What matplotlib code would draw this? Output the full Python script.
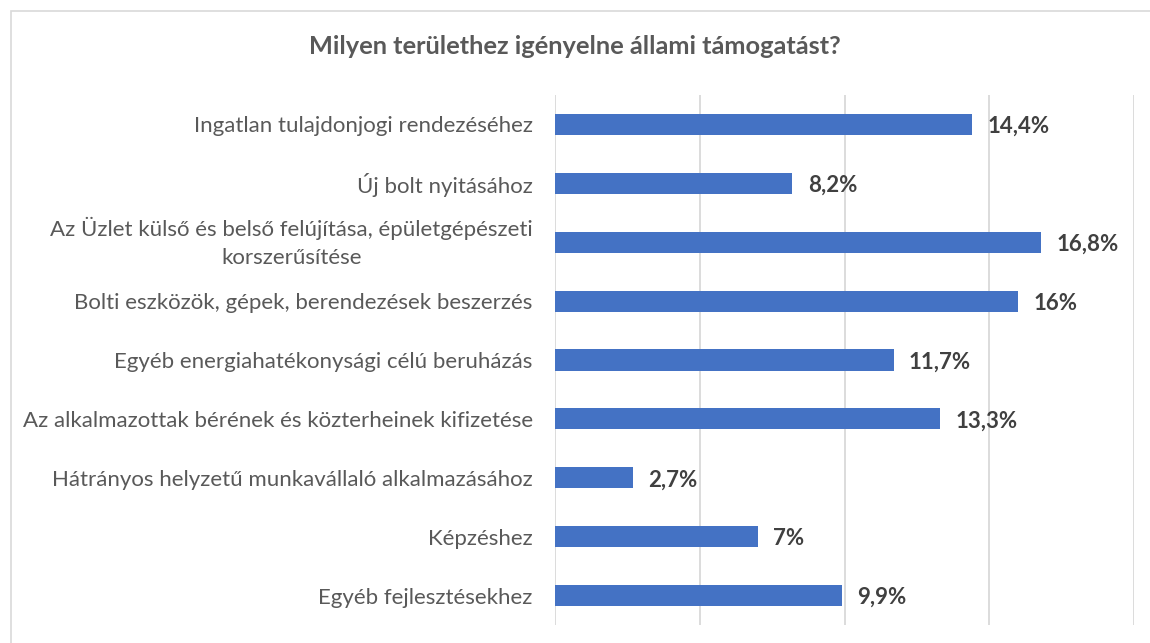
import matplotlib.pyplot as plt
from matplotlib.patches import Rectangle

# kategóriák és értékek (%)
categories = [
    'Ingatlan tulajdonjogi rendezéséhez',
    'Új bolt nyitásához',
    'Az Üzlet külső és belső felújítása, épületgépészeti\nkorszerűsítése',
    'Bolti eszközök, gépek, berendezések beszerzés',
    'Egyéb energiahatékonysági célú beruházás',
    'Az alkalmazottak bérének és közterheinek kifizetése',
    'Hátrányos helyzetű munkavállaló alkalmazásához',
    'Képzéshez',
    'Egyéb fejlesztésekhez',
]
values = [14.4, 8.2, 16.8, 16.0, 11.7, 13.3, 2.7, 7.0, 9.9]
value_labels = ['14,4%', '8,2%', '16,8%', '16%', '11,7%', '13,3%', '2,7%', '7%', '9,9%']

plt.rcParams['font.family'] = ['Lato', 'DejaVu Sans']

fig = plt.figure(figsize=(11.5, 6.43), dpi=100)
ax = fig.add_axes([555 / 1150, 1 - 625 / 643, (1134 - 555) / 1150, 530 / 643])

# keret a diagram körül
fig.patches.append(Rectangle((10.5 / 1150, -0.1), 1.2, 1 - 11.5 / 643 + 0.1,
                             transform=fig.transFigure, fill=False,
                             edgecolor='#d9d9d9', linewidth=1.2))

y = list(range(len(categories)))
ax.barh(y, values, height=0.36, color='#4472C4', zorder=3)

for yi, v, lab in zip(y, values, value_labels):
    ax.annotate(lab, (v, yi), xytext=(11, -1.5), textcoords='offset points',
                ha='left', va='center', fontsize=16, fontweight='bold',
                color='#404040')

ax.set_xlim(0, 20)
ax.set_ylim(len(categories) - 0.5, -0.5)
ax.set_xticks([0, 5, 10, 15, 20])
ax.xaxis.grid(True, color='#d9d9d9', linewidth=1.3)
ax.set_axisbelow(True)
ax.tick_params(axis='x', length=0, labelbottom=False)
ax.tick_params(axis='y', length=0, pad=16)
ax.set_yticks(y)
ax.set_yticklabels(categories, fontsize=16, color='#595959',
                   multialignment='center', linespacing=1.5)
# a kétsoros felirat középre igazítva
for t in ax.get_yticklabels():
    if '\n' in t.get_text():
        t.set_va('center')
for s in ax.spines.values():
    s.set_visible(False)

fig.text(0.5 * (310 + 840) / 1150, 1 - 47 / 643,
         'Milyen területhez igényelne állami támogatást?',
         ha='center', va='center', fontsize=18.3, fontweight='bold',
         color='#595959')

fig.savefig('out.png', dpi=100)
